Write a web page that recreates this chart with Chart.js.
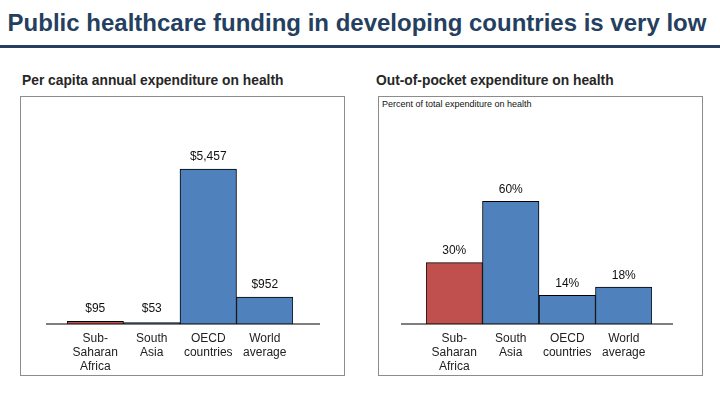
<!DOCTYPE html>
<html>
<head>
<meta charset="utf-8">
<script src="https://cdn.jsdelivr.net/npm/chart.js@4.4.0/dist/chart.umd.min.js"></script>
<style>
  body { margin: 0; width: 720px; height: 405px; background: #fff; position: relative; overflow: hidden;
         font-family: "Liberation Sans", Arial, sans-serif; }
  #title { position: absolute; left: 0; top: 9px; width: 714px; text-align: center; font-size: 24px;
           font-weight: bold; color: #243f60; white-space: nowrap; }
  #rule { position: absolute; left: 0; top: 45px; width: 720px; height: 3px; background: #243f60; }
  .sub { position: absolute; top: 73px; font-size: 13.8px; font-weight: bold; color: #262626; white-space: nowrap; }
  .box { position: absolute; top: 96px; width: 323px; height: 278px; border: 1px solid #8c8c8c; }
  .box canvas { position: absolute; left: 0; top: 0; }
  #note { position: absolute; left: 3px; top: 2px; font-size: 9px; color: #111; white-space: nowrap; }
</style>
</head>
<body>
<div id="title">Public healthcare funding in developing countries is very low</div>
<div id="rule"></div>
<div class="sub" style="left:22px">Per capita annual expenditure on health</div>
<div class="sub" style="left:376px">Out-of-pocket expenditure on health</div>
<div class="box" style="left:20px"><canvas id="spendChart" width="323" height="278"></canvas></div>
<div class="box" style="left:378px"><div id="note">Percent of total expenditure on health</div><canvas id="oopChart" width="323" height="278"></canvas></div>
<script>
const regions = [['Sub-', 'Saharan', 'Africa'], ['South', 'Asia'], ['OECD', 'countries'], ['World', 'average']];
const perCapita = [95, 53, 5457, 952];
const perCapitaLabels = ['$95', '$53', '$5,457', '$952'];
const outOfPocket = [30, 60, 14, 18];
const outOfPocketLabels = ['30%', '60%', '14%', '18%'];

const BLUE = '#4f81bd';
const RED = '#c0504d';
const barColors = [RED, BLUE, BLUE, BLUE];

// value labels above each bar + baseline that runs past the bars
const extras = {
  id: 'extras',
  afterDatasetsDraw(chart, args, opts) {
    const c = chart.ctx;
    const base = chart.scales.y.getPixelForValue(0);
    c.save();
    c.strokeStyle = '#000';
    c.lineWidth = 1.2;
    c.beginPath();
    c.moveTo(opts.lineFrom, base);
    c.lineTo(opts.lineTo, base);
    c.stroke();
    c.fillStyle = '#111';
    c.font = '12px "Liberation Sans", Arial, sans-serif';
    c.textAlign = 'center';
    c.textBaseline = 'middle';
    chart.getDatasetMeta(0).data.forEach((bar, i) => {
      c.fillText(opts.labels[i], bar.x, Math.min(bar.y, base - 3) - 12);
    });
    c.restore();
  }
};

function makeChart(id, values, labels, yMax, padL, padR, lineFrom, lineTo) {
  return new Chart(document.getElementById(id), {
    type: 'bar',
    data: {
      labels: regions,
      datasets: [{
        data: values,
        backgroundColor: barColors,
        borderColor: '#000',
        borderWidth: 1,
        barPercentage: 1,
        categoryPercentage: 1
      }]
    },
    options: {
      responsive: false,
      animation: false,
      layout: { padding: { left: padL, right: padR, top: 0, bottom: 0 } },
      plugins: {
        legend: { display: false },
        tooltip: { enabled: false },
        extras: { labels: labels, lineFrom: lineFrom, lineTo: lineTo }
      },
      scales: {
        x: {
          grid: { display: false },
          border: { display: false },
          ticks: { color: '#222', padding: 0, font: { size: 12, family: '"Liberation Sans", Arial, sans-serif', lineHeight: 1.17 }, maxRotation: 0, autoSkip: false },
          afterFit(s) { s.height = 51; }
        },
        y: { display: false, min: 0, max: yMax }
      }
    },
    plugins: [extras]
  });
}

makeChart('spendChart', perCapita, perCapitaLabels, 8000, 46, 51, 25, 299);
makeChart('oopChart', outOfPocket, outOfPocketLabels, 111, 47, 50, 22, 294);
</script>
</body>
</html>
